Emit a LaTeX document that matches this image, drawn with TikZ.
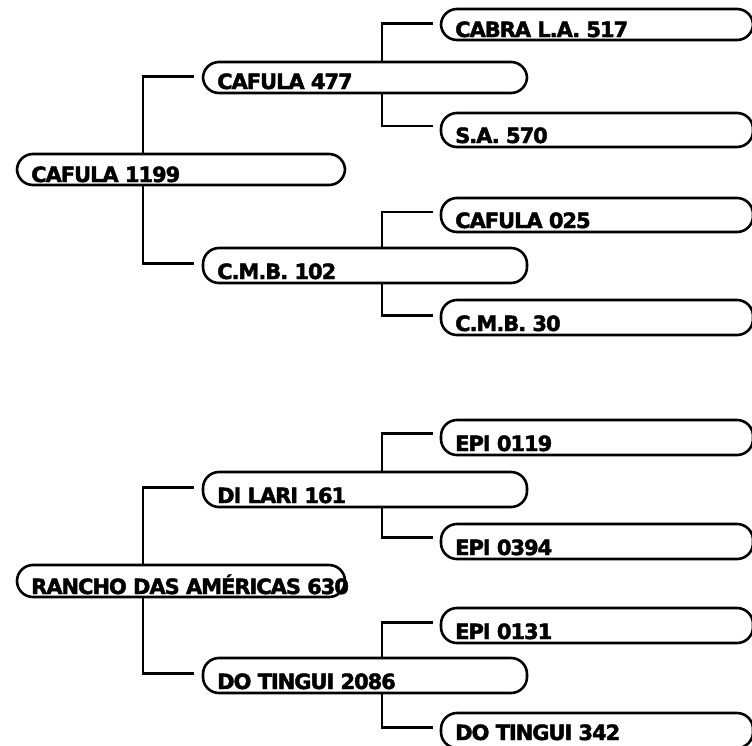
\documentclass[tikz,border=0pt]{standalone}
\usepackage{fontspec}
\setmainfont{DejaVu Sans}
\newfontfamily\heavyfont{DejaVu Sans Bold}[FakeBold=2,LetterSpace=-5]
\usetikzlibrary{backgrounds,calc}
\tikzset{
  box/.style={draw=black, fill=white, line width=2.6pt, rounded corners=16pt,
    inner sep=0pt, outer sep=0pt},
  lbl/.style={font=\fontsize{21}{21}\heavyfont, inner sep=0pt, anchor=base west},
  conn/.style={draw=black, line width=2.3pt, line cap=rect}
}
\newcommand{\pbox}[7]{% name, L, T, R, B, text, raise
  \node[box, minimum width=#4-#2, minimum height=#5-#3] (#1) at ({(#2+#4)/2},{(#3+#5)/2}) {};
  \node[lbl] (#1t) at ($(#1.south west)+(14,-#7)$) {#6};
}
\begin{document}
\begin{tikzpicture}[x=1pt,y=-1pt]
\useasboundingbox (0,0) rectangle (752,745);
% top group
\pbox{p1}{17}{154}{345}{185}{CAFULA 1199}{3}
\pbox{a}{203}{62}{527}{93}{CAFULA 477}{4}
\pbox{aa}{441}{9}{753}{40}{CABRA L.A. 517}{3}
\pbox{ab}{441}{113}{753}{147}{S.A. 570}{4}
\pbox{b}{203}{248}{527}{283}{C.M.B. 102}{4}
\pbox{ba}{441}{198}{753}{232}{CAFULA 025}{4}
\pbox{bb}{441}{300}{753}{335}{C.M.B. 30}{4}
% bottom group
\pbox{p2}{17}{565}{345}{597}{RANCHO DAS AMÉRICAS 630}{3}
\pbox{c}{203}{472}{527}{507}{DI LARI 161}{4}
\pbox{ca}{441}{420}{753}{455}{EPI 0119}{4}
\pbox{cb}{441}{524}{753}{559}{EPI 0394}{4}
\pbox{d}{203}{658}{527}{693}{DO TINGUI 2086}{4}
\pbox{da}{441}{608}{753}{643}{EPI 0131}{4}
\pbox{db}{441}{713}{753}{748}{DO TINGUI 342}{8}
% junctions
\coordinate (jp1) at ([xshift=126]p1.west);
\coordinate (jp2) at ([xshift=126]p2.west);
\coordinate (ja) at ([xshift=179]a.west);
\coordinate (jb) at ([xshift=179]b.west);
\coordinate (jc) at ([xshift=179]c.west);
\coordinate (jd) at ([xshift=179]d.west);
\begin{pgfonlayer}{background}
\draw[conn] ([shift={(-10,-1)}]a.west) -| (jp1) |- ([shift={(-10,-2)}]b.west);
\draw[conn] ([shift={(-9,-1)}]aa.west) -| (ja) |- ([shift={(-9,-4)}]ab.west);
\draw[conn] ([shift={(-9,-3)}]ba.west) -| (jb) |- ([shift={(-9,-2)}]bb.west);
\draw[conn] ([shift={(-10,-2)}]c.west) -| (jp2) |- ([shift={(-10,-2)}]d.west);
\draw[conn] ([shift={(-9,-4)}]ca.west) -| (jc) |- ([shift={(-9,-4)}]cb.west);
\draw[conn] ([shift={(-9,-3)}]da.west) -| (jd) |- ([shift={(-9,-3)}]db.west);
\end{pgfonlayer}
\end{tikzpicture}
\end{document}
